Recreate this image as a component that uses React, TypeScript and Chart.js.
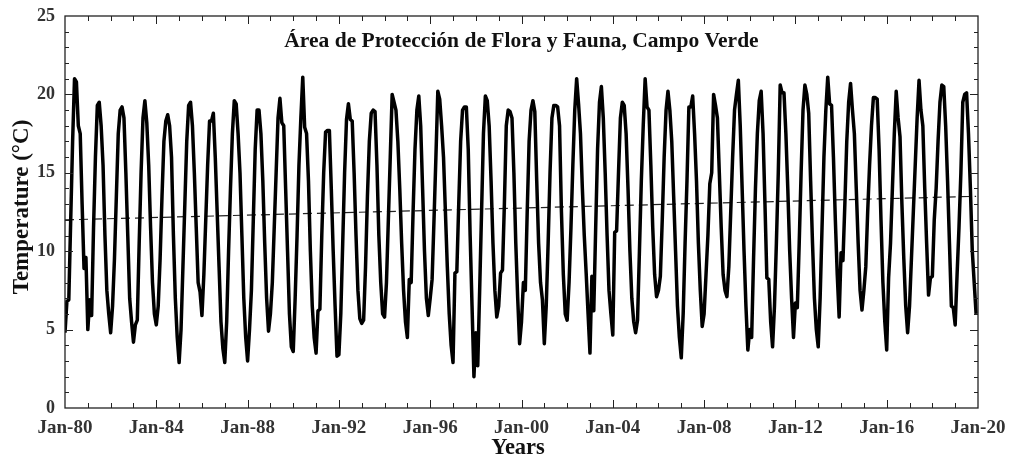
import React, { useEffect, useRef } from 'react';
import { Chart, registerables } from 'chart.js';

Chart.register(...registerables);

// Monthly mean temperature (°C), Jan..Dec for each year
const temps1980s: number[] = [
  4.8, 6.8, 6.9, 12.0, 17.0, 21.0, 20.8, 18.0, 17.5, 13.0, 8.9, 9.6, // 1980
  5.0, 6.9, 5.9, 11.5, 16.0, 19.3, 19.5, 18.0, 15.5, 11.0, 7.5, 6.0, // 1981
  4.8, 6.5, 9.5, 13.5, 17.5, 19.0, 19.2, 18.5, 15.0, 11.0, 7.0, 5.5, // 1982
  4.2, 5.3, 5.6, 10.5, 15.0, 18.5, 19.6, 18.2, 15.5, 11.5, 8.0, 6.0, // 1983
  5.3, 6.5, 9.5, 13.5, 17.0, 18.3, 18.7, 18.0, 16.0, 11.0, 7.0, 4.5, // 1984
  2.9, 5.0, 9.0, 13.0, 17.0, 19.3, 19.5, 18.0, 15.0, 11.5, 8.0, 7.4, // 1985
  5.9, 8.5, 12.0, 15.5, 18.3, 18.3, 18.8, 16.0, 12.5, 9.0, 5.5, 3.8, // 1986
  2.9, 5.5, 10.0, 14.0, 17.5, 19.6, 19.4, 17.5, 15.0, 11.0, 7.0, 4.5, // 1987
  3.0, 5.0, 7.5, 12.0, 16.5, 19.0, 19.0, 17.5, 14.5, 10.5, 7.0, 4.9, // 1988
  6.0, 8.0, 11.5, 15.0, 18.5, 19.75, 18.2, 18.0, 14.0, 10.0, 6.0, 3.9, // 1989
];
const temps1990s: number[] = [
  3.6, 7.0, 11.0, 15.5, 18.5, 21.1, 17.9, 17.5, 14.5, 10.0, 6.5, 4.5, // 1990
  3.5, 6.2, 6.3, 11.0, 15.0, 17.6, 17.7, 17.7, 14.0, 10.0, 6.5, 3.3, // 1991
  3.4, 6.0, 10.5, 15.0, 18.4, 19.4, 18.4, 18.3, 15.0, 11.0, 7.5, 5.7, // 1992
  5.4, 5.6, 9.0, 13.5, 17.0, 18.8, 19.0, 18.9, 15.5, 11.0, 8.0, 6.0, // 1993
  5.8, 8.0, 12.0, 16.0, 20.0, 19.5, 19.0, 17.0, 14.0, 10.5, 7.5, 5.5, // 1994
  4.5, 8.2, 8.0, 12.5, 16.5, 19.0, 19.9, 18.0, 14.0, 10.0, 7.0, 5.9, // 1995
  7.0, 8.2, 12.0, 16.0, 20.2, 19.7, 18.0, 16.0, 12.5, 9.0, 6.0, 4.0, // 1996
  2.9, 8.6, 8.7, 13.0, 17.0, 19.0, 19.2, 19.2, 16.5, 11.0, 6.5, 2.0, // 1997
  4.8, 2.7, 7.5, 12.5, 17.5, 19.9, 19.6, 18.0, 14.5, 10.5, 7.5, 5.8, // 1998
  6.5, 8.6, 8.8, 13.0, 18.0, 19.0, 18.9, 18.5, 15.0, 10.5, 7.0, 4.1, // 1999
];
const temps2000s: number[] = [
  5.5, 8.0, 7.5, 12.5, 17.0, 19.0, 19.6, 18.9, 14.5, 10.5, 8.0, 6.9, // 2000
  4.1, 6.5, 10.5, 15.0, 18.5, 19.3, 19.3, 19.2, 18.0, 12.5, 8.5, 6.0, // 2001
  5.6, 8.0, 11.5, 15.5, 19.0, 21.0, 19.4, 17.5, 14.0, 11.0, 8.6, 6.0, // 2002
  3.5, 8.4, 6.2, 11.5, 16.5, 19.5, 20.5, 18.5, 15.0, 11.0, 7.5, 6.0, // 2003
  4.65, 11.2, 11.3, 15.0, 18.5, 19.5, 19.3, 17.5, 14.0, 10.0, 7.0, 5.5, // 2004
  4.8, 5.6, 10.0, 14.5, 18.0, 21.0, 19.2, 19.0, 15.5, 11.5, 8.5, 7.1, // 2005
  7.5, 8.4, 12.0, 16.0, 19.0, 20.2, 19.0, 17.0, 13.5, 10.0, 6.5, 4.5, // 2006
  3.2, 6.0, 10.5, 14.5, 19.2, 19.2, 19.9, 17.5, 14.5, 10.5, 7.5, 5.2, // 2007
  6.0, 8.5, 11.0, 14.3, 15.0, 20.0, 19.3, 18.5, 15.0, 11.5, 8.5, 7.5, // 2008
  7.1, 9.0, 12.5, 16.0, 19.0, 20.0, 20.9, 18.0, 14.0, 10.0, 6.5, 3.7, // 2009
];
const temps2010s: number[] = [
  5.0, 4.5, 9.5, 14.0, 17.5, 19.6, 20.2, 17.5, 13.0, 8.3, 8.2, 5.5, // 2010
  3.9, 6.5, 10.5, 15.0, 20.6, 20.1, 20.1, 17.5, 14.0, 10.0, 7.0, 4.5, // 2011
  6.7, 6.4, 10.5, 15.0, 19.0, 20.6, 20.0, 18.8, 14.5, 10.5, 7.0, 5.0, // 2012
  3.9, 7.0, 11.5, 16.0, 19.0, 21.1, 19.4, 19.3, 16.0, 12.0, 8.5, 5.8, // 2013
  9.9, 9.4, 13.0, 17.0, 19.5, 20.7, 19.0, 17.5, 14.0, 10.5, 7.5, 6.25, // 2014
  7.5, 9.0, 12.5, 15.5, 18.0, 19.8, 19.8, 19.7, 16.5, 12.0, 8.0, 5.5, // 2015
  3.7, 8.3, 10.5, 14.0, 17.5, 20.2, 18.5, 17.3, 13.0, 9.5, 6.5, 4.8, // 2016
  6.5, 9.5, 12.5, 15.5, 18.5, 20.9, 19.0, 18.0, 14.0, 10.5, 7.2, 8.3, // 2017
  8.4, 12.0, 14.0, 17.0, 19.5, 20.6, 20.5, 18.0, 14.5, 10.5, 6.5, 6.4, // 2018
  5.3, 8.5, 11.5, 15.0, 19.5, 20.0, 20.1, 17.5, 14.0, 10.0, 8.0, 6.0, // 2019
];

const tickLabels = [
  'Jan-80', 'Jan-84', 'Jan-88', 'Jan-92', 'Jan-96', 'Jan-00',
  'Jan-04', 'Jan-08', 'Jan-12', 'Jan-16', 'Jan-20',
];
const trendMonths = [0, 479];
const trendValues = [12.0, 13.5];

const chartTitle = 'Área de Protección de Flora y Fauna, Campo Verde';
const yTitle = 'Temperature (°C)';
const xTitle = 'Years';

const FONT = '"Liberation Serif", "Times New Roman", serif';

const framePlugin = {
  id: 'frameAndTitles',
  afterDatasetsDraw(chart: any) {
    const { ctx, chartArea: a, scales } = chart;
    const xs = scales.x;
    const ys = scales.y;
    ctx.save();
    ctx.strokeStyle = '#222';
    ctx.lineWidth = 1.3;
    ctx.strokeRect(a.left, a.top, a.right - a.left, a.bottom - a.top);
    ctx.lineWidth = 1;
    ctx.beginPath();
    for (let m = 12; m < 480; m += 12) {
      const px = Math.round(xs.getPixelForValue(m)) + 0.5;
      const len = m % 48 === 0 ? 8 : 5;
      ctx.moveTo(px, a.bottom);
      ctx.lineTo(px, a.bottom - len);
      ctx.moveTo(px, a.top);
      ctx.lineTo(px, a.top + len);
    }
    for (let v = 1; v < 25; v++) {
      const py = Math.round(ys.getPixelForValue(v)) + 0.5;
      const len = v % 5 === 0 ? 8 : 4;
      ctx.moveTo(a.left, py);
      ctx.lineTo(a.left + len, py);
      ctx.moveTo(a.right, py);
      ctx.lineTo(a.right - len, py);
    }
    ctx.stroke();

    ctx.fillStyle = '#111';
    ctx.textAlign = 'center';
    ctx.textBaseline = 'middle';
    ctx.font = `bold 21.5px ${FONT}`;
    ctx.fillText(chartTitle, (a.left + a.right) / 2, 41);

    ctx.font = `bold 22.5px ${FONT}`;
    ctx.fillText(xTitle, 518, 448);

    ctx.save();
    ctx.translate(22, 207);
    ctx.rotate(-Math.PI / 2);
    ctx.font = `bold 23px ${FONT}`;
    ctx.fillText(yTitle, 0, 0);
    ctx.restore();

    ctx.restore();
  },
};

export default function App() {
  const canvasRef = useRef<HTMLCanvasElement | null>(null);

  useEffect(() => {
    if (!canvasRef.current) return;
    const temps = [...temps1980s, ...temps1990s, ...temps2000s, ...temps2010s];
    const mainData = temps.map((v, i) => ({ x: i, y: v }));
    const trendData = trendMonths.map((m, i) => ({ x: m, y: trendValues[i] }));

    const chart = new Chart(canvasRef.current, {
      type: 'line',
      data: {
        datasets: [
          {
            data: mainData,
            borderColor: '#000',
            borderWidth: 3.5,
            pointRadius: 0,
            tension: 0,
            borderJoinStyle: 'round',
            order: 0,
          },
          {
            data: trendData,
            borderColor: '#222',
            borderWidth: 1.2,
            borderDash: [9, 5],
            pointRadius: 0,
            order: 1,
          },
        ],
      },
      options: {
        animation: false,
        responsive: false,
        parsing: false as any,
        layout: { padding: { top: 16, right: 31, left: 0, bottom: 0 } },
        plugins: {
          legend: { display: false },
          tooltip: { enabled: false },
          title: { display: false },
        },
        scales: {
          x: {
            type: 'linear',
            min: 0,
            max: 480,
            grid: { display: false, drawTicks: false },
            border: { display: false },
            ticks: {
              stepSize: 48,
              autoSkip: false,
              maxRotation: 0,
              padding: 9,
              color: '#333',
              font: { family: FONT, size: 19, weight: 'bold' },
              callback: (v: any) => {
                const idx = Math.round(Number(v) / 48);
                return Number(v) % 48 === 0 ? tickLabels[idx] : '';
              },
            },
            afterFit: (s: any) => {
              s.height = 60;
              s.paddingLeft = 0;
              s.paddingRight = 0;
            },
          },
          y: {
            min: 0,
            max: 25,
            grid: { display: false, drawTicks: false },
            border: { display: false },
            ticks: {
              stepSize: 5,
              padding: 10,
              color: '#333',
              font: { family: FONT, size: 18, weight: 'bold' },
            },
            afterFit: (s: any) => {
              s.width = 65;
              s.paddingTop = 0;
              s.paddingBottom = 0;
            },
          },
        },
      },
      plugins: [framePlugin],
    });
    return () => chart.destroy();
  }, []);

  return (
    <div style={{ position: 'absolute', left: 0, top: 0, width: 1009, height: 468 }}>
      <canvas ref={canvasRef} width={1009} height={468} style={{ width: 1009, height: 468 }} />
    </div>
  );
}
